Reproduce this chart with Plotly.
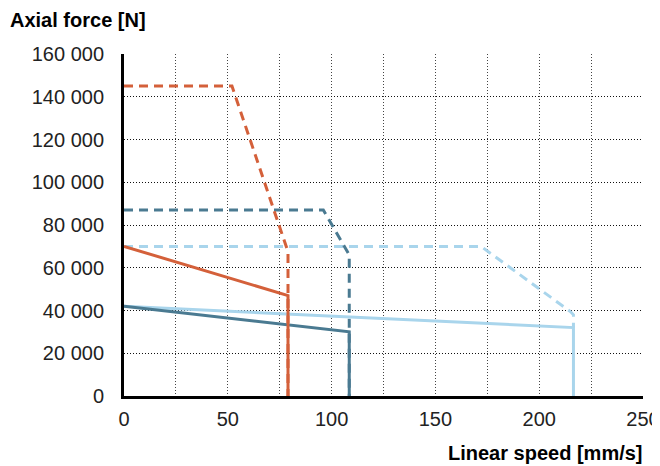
import plotly.graph_objects as go

# Data
orange_cont_x = [0, 79, 79]
orange_cont_y = [70000, 47000, 0]
orange_peak_x = [0, 52, 79, 79]
orange_peak_y = [145000, 145000, 67500, 0]

dark_cont_x = [0, 108.5, 108.5]
dark_cont_y = [42000, 30000, 0]
dark_peak_x = [0, 96, 108.5, 108.5]
dark_peak_y = [87000, 87000, 66000, 0]

light_cont_x = [0, 216.5, 216.5]
light_cont_y = [42000, 32000, 0]
light_peak_x = [0, 172, 215, 216.5, 216.5]
light_peak_y = [70000, 70000, 39500, 38000, 32000]

x_tickvals = [0, 25, 50, 75, 100, 125, 150, 175, 200, 225, 250]
x_ticktext = ["0", "", "50", "", "100", "", "150", "", "200", "", "250"]
y_tickvals = [0, 20000, 40000, 60000, 80000, 100000, 120000, 140000, 160000]
y_ticktext = ["0", "20 000", "40 000", "60 000", "80 000", "100 000", "120 000", "140 000", "160 000"]

ORANGE = "#D4603A"
DARK = "#4A7A91"
LIGHT = "#A9D5EC"

fig = go.Figure()
W = 3
DASH = "9px,6px"
fig.add_trace(go.Scatter(x=light_peak_x, y=light_peak_y, mode="lines",
                         line=dict(color=LIGHT, width=W, dash=DASH)))
fig.add_trace(go.Scatter(x=dark_peak_x, y=dark_peak_y, mode="lines",
                         line=dict(color=DARK, width=W, dash=DASH)))
fig.add_trace(go.Scatter(x=orange_peak_x, y=orange_peak_y, mode="lines",
                         line=dict(color=ORANGE, width=W, dash=DASH)))
fig.add_trace(go.Scatter(x=light_cont_x, y=light_cont_y, mode="lines",
                         line=dict(color=LIGHT, width=W)))
fig.add_trace(go.Scatter(x=dark_cont_x, y=dark_cont_y, mode="lines",
                         line=dict(color=DARK, width=W)))
fig.add_trace(go.Scatter(x=orange_cont_x, y=orange_cont_y, mode="lines",
                         line=dict(color=ORANGE, width=W)))

FONT = "Liberation Sans"
PW = 652 - 116 - 17
fig.update_layout(
    width=652, height=458,
    margin=dict(l=116, r=17, t=46, b=70),
    paper_bgcolor="white", plot_bgcolor="white",
    showlegend=False,
    font=dict(family=FONT, size=20, color="#222"),
    xaxis=dict(range=[0, 250], tickvals=x_tickvals, ticktext=x_ticktext,
               showgrid=True, gridcolor="#444", griddash="1px,2px", gridwidth=1,
               showline=True, linecolor="black", linewidth=3,
               zeroline=False, ticks="", ticklabelstandoff=3, automargin=False),
    yaxis=dict(range=[0, 160000], tickvals=y_tickvals, ticktext=y_ticktext,
               showgrid=True, gridcolor="#111", griddash="1px,2px", gridwidth=1,
               showline=True, linecolor="black", linewidth=3,
               zeroline=False, ticks="", ticklabelstandoff=13, automargin=False),
    annotations=[
        dict(text="<b>Axial force [N]</b>", xref="paper", yref="paper",
             x=-116/PW, y=1, yshift=34, xanchor="left", yanchor="middle",
             showarrow=False, font=dict(family=FONT, size=20, color="black")),
        dict(text="<b>Linear speed [mm/s]</b>", xref="paper", yref="paper",
             x=1, y=0, xshift=2, yshift=-57, xanchor="right", yanchor="middle",
             showarrow=False, font=dict(family=FONT, size=20, color="black")),
    ],
)

fig.write_html("out.html")
